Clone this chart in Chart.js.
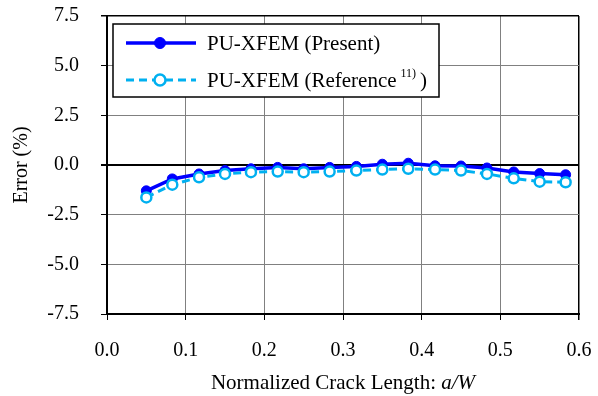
<!DOCTYPE html>
<html>
<head>
<meta charset="utf-8">
<script src="https://cdn.jsdelivr.net/npm/chart.js@4.4.0/dist/chart.umd.min.js"></script>
<style>
html, body { margin: 0; padding: 0; background: #fff; }
#wrap { width: 598px; height: 396px; }
</style>
</head>
<body>
<div id="wrap"><canvas id="chart"></canvas></div>
<script>
// data
const crackLength = [0.05, 0.083, 0.117, 0.15, 0.183, 0.217, 0.25, 0.283, 0.317, 0.35, 0.383, 0.417, 0.45, 0.483, 0.517, 0.55, 0.583];
const presentError = [-1.30, -0.70, -0.45, -0.28, -0.19, -0.12, -0.19, -0.12, -0.07, 0.04, 0.09, -0.04, -0.05, -0.15, -0.35, -0.43, -0.49];
const referenceError = [-1.63, -0.99, -0.62, -0.45, -0.36, -0.33, -0.36, -0.33, -0.28, -0.23, -0.19, -0.23, -0.28, -0.45, -0.67, -0.84, -0.87];
const seriesNames = ["PU-XFEM (Present)", "PU-XFEM (Reference"];
const refNote = "11)";
const xTicks = [0, 0.1, 0.2, 0.3, 0.4, 0.5, 0.6];
const yTicks = [-7.5, -5.0, -2.5, 0, 2.5, 5.0, 7.5];

const serif = "'Liberation Serif', 'Times New Roman', serif";
Chart.defaults.font.family = serif;
Chart.defaults.font.size = 20;
Chart.defaults.color = '#000';

function toPoints(xs, ys){
    return xs.map((x, i) => ({x: x, y: ys[i]}));
}

// legend box with superscript + x title with italic part
const legendBox = {
    id: 'legendBox',
    afterDatasetsDraw(chart){
        const {ctx, chartArea} = chart;
        const x0 = chartArea.left + 6, y0 = chartArea.top + 8;
        ctx.save();
        ctx.fillStyle = '#fff';
        ctx.fillRect(x0, y0, 326, 73);
        ctx.strokeStyle = '#000';
        ctx.lineWidth = 1.5;
        ctx.strokeRect(x0, y0, 326, 73);
        const order = [1, 0]; // present first, then reference
        order.forEach((dsIndex, row) => {
            const ds = chart.data.datasets[dsIndex];
            const cy = y0 + 19 + row * 37;
            ctx.setLineDash(ds.borderDash || []);
            ctx.strokeStyle = ds.borderColor;
            ctx.lineWidth = ds.borderWidth;
            ctx.beginPath();
            ctx.moveTo(x0 + 13, cy);
            ctx.lineTo(x0 + 83, cy);
            ctx.stroke();
            ctx.setLineDash([]);
            ctx.beginPath();
            ctx.arc(x0 + 47, cy, ds.pointRadius + 0.5, 0, Math.PI * 2);
            ctx.fillStyle = ds.pointBackgroundColor;
            ctx.fill();
            ctx.lineWidth = ds.pointBorderWidth;
            ctx.strokeStyle = ds.pointBorderColor;
            ctx.stroke();
            ctx.fillStyle = '#000';
            ctx.textBaseline = 'middle';
            ctx.textAlign = 'left';
            ctx.font = '21px ' + serif;
            let tx = x0 + 94;
            ctx.fillText(ds.label, tx, cy + 1);
            if(dsIndex === 0){
                tx += ctx.measureText(ds.label).width + 4;
                ctx.font = '12px ' + serif;
                ctx.fillText(refNote, tx, cy - 6);
                tx += ctx.measureText(refNote).width + 4;
                ctx.font = '21px ' + serif;
                ctx.fillText(')', tx, cy + 1);
            }
        });
        // x axis title
        const part1 = 'Normalized Crack Length: ';
        const part2 = 'a/W';
        ctx.font = '21px ' + serif;
        const w1 = ctx.measureText(part1).width;
        ctx.font = 'italic 21px ' + serif;
        const w2 = ctx.measureText(part2).width;
        let sx = (chartArea.left + chartArea.right) / 2 - (w1 + w2) / 2;
        ctx.font = '21px ' + serif;
        ctx.fillText(part1, sx, 383);
        ctx.font = 'italic 21px ' + serif;
        ctx.fillText(part2, sx + w1, 383);
        ctx.restore();
    }
};

new Chart(document.getElementById('chart'), {
    type: 'line',
    data: {
        datasets: [{
            label: seriesNames[1],
            data: toPoints(crackLength, referenceError),
            borderColor: '#00B0F0',
            borderWidth: 3,
            borderDash: [8, 5],
            pointRadius: 5,
            pointBackgroundColor: '#fff',
            pointBorderColor: '#00B0F0',
            pointBorderWidth: 2.5,
            order: 1
        }, {
            label: seriesNames[0],
            data: toPoints(crackLength, presentError),
            borderColor: '#0000FF',
            borderWidth: 3.5,
            pointRadius: 5,
            pointBackgroundColor: '#0000FF',
            pointBorderColor: '#0000FF',
            pointBorderWidth: 1,
            order: 2
        }]
    },
    options: {
        responsive: true,
        maintainAspectRatio: false,
        animation: false,
        layout: { padding: 0 },
        plugins: {
            legend: { display: false },
            tooltip: { enabled: false }
        },
        scales: {
            x: {
                type: 'linear',
                min: 0,
                max: 0.6,
                afterBuildTicks: s => { s.ticks = xTicks.map(v => ({value: v})); },
                afterFit: s => { s.height = 82; s.paddingLeft = 0; s.paddingRight = 19; },
                ticks: { padding: 19, callback: v => v.toFixed(1), maxRotation: 0 },
                grid: {
                    color: c => c.tick && c.tick.value >= 0.6 ? '#000' : '#808080',
                    lineWidth: c => c.tick && c.tick.value >= 0.6 ? 1.5 : 1,
                    tickColor: '#000',
                    tickLength: 6
                },
                border: { color: '#000', width: 2 }
            },
            y: {
                min: -7.5,
                max: 7.5,
                afterBuildTicks: s => { s.ticks = yTicks.map(v => ({value: v})); },
                afterFit: s => { s.width = 107; s.paddingTop = 16; s.paddingBottom = 0; },
                ticks: { padding: 22, callback: v => v.toFixed(1) },
                grid: {
                    color: c => (c.tick && (c.tick.value === 0 || c.tick.value === 7.5)) ? '#000' : '#808080',
                    lineWidth: c => c.tick && c.tick.value === 0 ? 2 : (c.tick && c.tick.value === 7.5 ? 1.5 : 1),
                    tickColor: '#000',
                    tickLength: 6
                },
                border: { color: '#000', width: 2 },
                title: { display: true, text: 'Error (%)', padding: {top: 10, bottom: 0} }
            }
        }
    },
    plugins: [legendBox]
});
</script>
</body>
</html>
